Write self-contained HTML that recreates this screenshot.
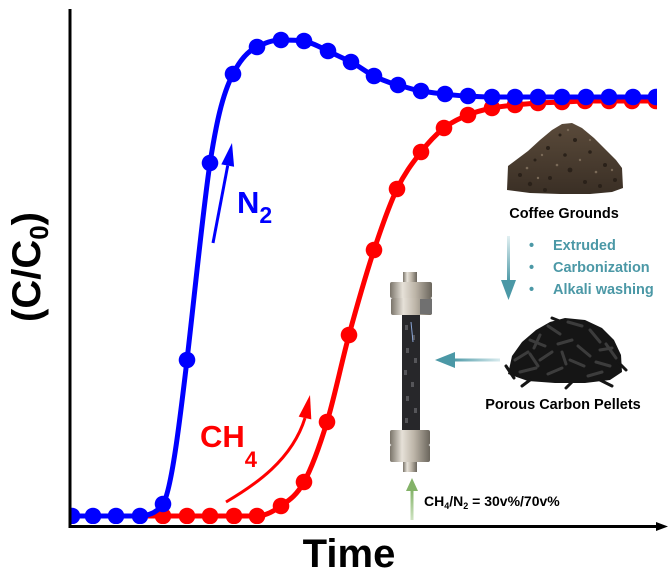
<!DOCTYPE html>
<html><head><meta charset="utf-8"><style>
html,body{margin:0;padding:0;background:#fff;}
svg{display:block;}
text{font-family:"Liberation Sans",Arial,sans-serif;font-weight:bold;}
</style></head><body>
<svg width="670" height="574" viewBox="0 0 670 574" xmlns="http://www.w3.org/2000/svg">
<defs>
<clipPath id="plot"><rect x="71" y="0" width="586" height="524"/></clipPath>
<linearGradient id="tealV" x1="0" y1="0" x2="0" y2="1"><stop offset="0" stop-color="#e2f0f2"/><stop offset="1" stop-color="#4b98a6"/></linearGradient>
<linearGradient id="tealH" x1="1" y1="0" x2="0" y2="0"><stop offset="0" stop-color="#d8ebee"/><stop offset="1" stop-color="#4b98a6"/></linearGradient>
<linearGradient id="greenV" x1="0" y1="1" x2="0" y2="0"><stop offset="0" stop-color="#cfe3c2"/><stop offset="1" stop-color="#7fb063"/></linearGradient>
<linearGradient id="metal" x1="0" y1="0" x2="1" y2="0"><stop offset="0" stop-color="#7a746a"/><stop offset="0.3" stop-color="#e6e1d8"/><stop offset="0.6" stop-color="#bdb5a8"/><stop offset="1" stop-color="#6a655c"/></linearGradient>
<linearGradient id="brown" x1="0" y1="0" x2="0" y2="1"><stop offset="0" stop-color="#5a4a3a"/><stop offset="1" stop-color="#3a2f25"/></linearGradient>
</defs>

<!-- data curves -->
<g clip-path="url(#plot)">
<!-- red -->
<path d="M 148 516 L 257 516 C 265 516, 273 511.8, 281 506 C 288.7 500.5, 296.3 496, 304 482 C 311.7 468, 319.3 447.1, 327 422 C 334.3 398, 341.7 361.8, 349 335 C 357.3 304.5, 365.7 275.3, 374 250 C 381.7 226.7, 389.3 205, 397 189 C 405 172.3, 413 162.4, 421 152 C 428.7 142, 436.3 134.1, 444 128 C 452 121.7, 460 118.4, 468 115 C 476 111.6, 484 109.7, 492 108 C 499.7 106.4, 507.3 105.8, 515 105 C 522.7 104.2, 530.3 103.5, 538 103 C 546 102.5, 554 102.3, 562 102 C 569.7 101.7, 577.3 101.2, 585 101 L 665 101" fill="none" stroke="#ff0000" stroke-width="5"/>
<g fill="#ff0000">
<circle cx="163" cy="516" r="8.3"/><circle cx="187" cy="516" r="8.3"/><circle cx="210" cy="516" r="8.3"/><circle cx="234" cy="516" r="8.3"/><circle cx="257" cy="516" r="8.3"/>
<circle cx="281" cy="506" r="8.3"/><circle cx="304" cy="482" r="8.3"/><circle cx="327" cy="422" r="8.3"/><circle cx="349" cy="335" r="8.3"/><circle cx="374" cy="250" r="8.3"/>
<circle cx="397" cy="189" r="8.3"/><circle cx="421" cy="152" r="8.3"/><circle cx="444" cy="128" r="8.3"/><circle cx="468" cy="115" r="8.3"/><circle cx="492" cy="108" r="8.3"/>
<circle cx="515" cy="105" r="8.3"/><circle cx="538" cy="103" r="8.3"/><circle cx="562" cy="102" r="8.3"/><circle cx="585" cy="101" r="8.3"/><circle cx="609" cy="101" r="8.3"/>
<circle cx="632" cy="101" r="8.3"/><circle cx="656" cy="101" r="8.3"/>
</g>
<!-- blue -->
<path d="M 60 516 L 138 516 C 152 516, 159 510, 163 504 C 172 490, 181 410, 187 360 C 194 300, 203 210, 210 163 C 216 125, 222 95, 233 74 C 240 60, 248 51, 257 47 C 265 43, 272 40, 281 40 C 289 40, 296 40, 304 41 C 313 43, 320 47, 328 51 C 336 55, 343 58, 351 62 C 359 66, 366 72, 374 76 C 382 80, 390 83, 398 85 C 406 87, 414 90, 421 91 C 429 92, 437 93.5, 445 94 C 453 95, 460 96, 468 96 C 476 96.5, 484 97, 492 97 L 665 97" fill="none" stroke="#0000ff" stroke-width="5"/>
<g fill="#0000ff">
<circle cx="72" cy="516" r="8.3"/><circle cx="93" cy="516" r="8.3"/><circle cx="116" cy="516" r="8.3"/><circle cx="140" cy="516" r="8.3"/><circle cx="163" cy="504" r="8.3"/>
<circle cx="187" cy="360" r="8.3"/><circle cx="210" cy="163" r="8.3"/><circle cx="233" cy="74" r="8.3"/><circle cx="257" cy="47" r="8.3"/><circle cx="281" cy="40" r="8.3"/>
<circle cx="304" cy="41" r="8.3"/><circle cx="328" cy="51" r="8.3"/><circle cx="351" cy="62" r="8.3"/><circle cx="374" cy="76" r="8.3"/><circle cx="398" cy="85" r="8.3"/>
<circle cx="421" cy="91" r="8.3"/><circle cx="445" cy="94" r="8.3"/><circle cx="468" cy="96" r="8.3"/><circle cx="492" cy="97" r="8.3"/><circle cx="515" cy="97" r="8.3"/>
<circle cx="538" cy="97" r="8.3"/><circle cx="562" cy="97" r="8.3"/><circle cx="586" cy="97" r="8.3"/><circle cx="609" cy="97" r="8.3"/><circle cx="633" cy="97" r="8.3"/>
<circle cx="656" cy="97" r="8.3"/>
</g>
</g>

<!-- axes -->
<line x1="70" y1="9" x2="70" y2="528" stroke="#000" stroke-width="3"/>
<line x1="68.5" y1="526.5" x2="660" y2="526.5" stroke="#000" stroke-width="3"/>
<polygon points="656,522 668,526.5 656,531" fill="#000"/>

<!-- axis labels -->
<text x="349" y="567" font-size="40" text-anchor="middle" fill="#000">Time</text>
<text transform="translate(40,267) rotate(-90)" font-size="40" text-anchor="middle" fill="#000">(C/C<tspan font-size="26" dy="8">0</tspan><tspan dy="-8">)</tspan></text>

<!-- N2 arrow + label -->
<line x1="213" y1="243" x2="227.7" y2="165.6" stroke="#0000ff" stroke-width="3"/>
<polygon points="232,143 234.1,166.8 221.3,164.4" fill="#0000ff"/>
<text x="237" y="213" font-size="31" fill="#0000ff">N<tspan font-size="23" dy="10">2</tspan></text>

<!-- CH4 arrow + label -->
<path d="M 226 502 C 255 485, 292 460, 305 418" fill="none" stroke="#ff0000" stroke-width="3"/>
<polygon points="310,395 311.3,419.4 298.7,416.6" fill="#ff0000"/>
<text x="200" y="447" font-size="31" fill="#ff0000">CH<tspan font-size="22" dy="20">4</tspan></text>

<!-- coffee grounds pile -->
<polygon points="507,190 508,166 516,160 528,151 540,140 552,130 562,124 572,123 582,128 594,138 606,150 616,160 622,168 623,188 612,192 590,194 560,194 530,193" fill="url(#brown)"/>
<g fill="#2a2119">
<circle cx="520" cy="175" r="2"/><circle cx="535" cy="160" r="1.5"/><circle cx="548" cy="148" r="2"/><circle cx="560" cy="135" r="1.5"/><circle cx="575" cy="140" r="2"/><circle cx="590" cy="152" r="1.8"/><circle cx="605" cy="165" r="2"/><circle cx="615" cy="180" r="2"/><circle cx="530" cy="184" r="2.2"/><circle cx="550" cy="178" r="2"/><circle cx="570" cy="170" r="2.4"/><circle cx="585" cy="182" r="2"/><circle cx="600" cy="186" r="2"/><circle cx="545" cy="190" r="2"/><circle cx="565" cy="155" r="1.8"/>
</g>
<g fill="#7a6a58">
<circle cx="527" cy="168" r="1.3"/><circle cx="542" cy="155" r="1.2"/><circle cx="557" cy="165" r="1.3"/><circle cx="580" cy="160" r="1.2"/><circle cx="596" cy="172" r="1.3"/><circle cx="612" cy="170" r="1.2"/><circle cx="568" cy="130" r="1.2"/><circle cx="538" cy="178" r="1.2"/><circle cx="590" cy="140" r="1.1"/>
</g>
<text x="564" y="218" font-size="14.5" text-anchor="middle" fill="#000">Coffee Grounds</text>

<!-- teal down arrow + steps -->
<rect x="507" y="236" width="3" height="46" fill="url(#tealV)"/>
<polygon points="501,280 516,280 508.5,300" fill="#4b98a6"/>
<g fill="#4b98a6" font-size="14.5">
<text x="529" y="250">•</text><text x="553" y="250">Extruded</text>
<text x="529" y="272">•</text><text x="553" y="272">Carbonization</text>
<text x="529" y="294">•</text><text x="553" y="294">Alkali washing</text>
</g>

<!-- carbon pellets -->
<polygon points="508,374 512,356 522,342 536,330 550,322 565,318 585,320 602,328 614,340 621,355 622,372 610,380 585,383 555,383 528,381" fill="#151515"/>
<g stroke="#3c3c3c" stroke-width="3" stroke-linecap="round">
<line x1="515" y1="360" x2="528" y2="352"/><line x1="530" y1="340" x2="545" y2="346"/><line x1="548" y1="326" x2="560" y2="334"/><line x1="568" y1="322" x2="582" y2="326"/><line x1="590" y1="330" x2="600" y2="342"/>
<line x1="606" y1="344" x2="616" y2="358"/><line x1="520" y1="372" x2="536" y2="368"/><line x1="540" y1="360" x2="552" y2="352"/><line x1="558" y1="344" x2="572" y2="340"/><line x1="578" y1="346" x2="590" y2="356"/>
<line x1="596" y1="362" x2="610" y2="366"/><line x1="548" y1="374" x2="562" y2="368"/><line x1="570" y1="360" x2="584" y2="366"/><line x1="588" y1="376" x2="602" y2="372"/><line x1="530" y1="354" x2="538" y2="366"/>
<line x1="562" y1="352" x2="566" y2="364"/><line x1="600" y1="350" x2="612" y2="348"/><line x1="540" y1="335" x2="534" y2="348"/>
</g>
<g stroke="#151515" stroke-width="3" stroke-linecap="round">
<line x1="506" y1="366" x2="514" y2="378"/><line x1="618" y1="362" x2="626" y2="370"/><line x1="552" y1="318" x2="562" y2="322"/><line x1="530" y1="380" x2="522" y2="386"/><line x1="600" y1="380" x2="612" y2="386"/><line x1="572" y1="382" x2="566" y2="388"/>
</g>
<text x="563" y="409" font-size="14.5" text-anchor="middle" fill="#000">Porous Carbon Pellets</text>

<!-- teal left arrow -->
<rect x="452" y="358.5" width="48" height="3" fill="url(#tealH)"/>
<polygon points="435,360 455,352 455,368" fill="#4b98a6"/>

<!-- column -->
<rect x="403" y="272" width="14" height="11" fill="url(#metal)"/>
<rect x="390" y="282" width="42" height="16" rx="2" fill="url(#metal)"/>
<rect x="391" y="298" width="41" height="17" rx="2" fill="url(#metal)"/>
<rect x="420" y="299" width="12" height="15" fill="#707070"/>
<rect x="402" y="315" width="18" height="115" fill="#27272a"/>
<g fill="#555559">
<rect x="405" y="325" width="3" height="5"/><rect x="412" y="335" width="3" height="5"/><rect x="406" y="348" width="3" height="5"/><rect x="414" y="358" width="3" height="5"/><rect x="404" y="370" width="3" height="5"/><rect x="411" y="382" width="3" height="5"/><rect x="406" y="396" width="3" height="5"/><rect x="414" y="408" width="3" height="5"/><rect x="405" y="418" width="3" height="5"/>
</g>
<line x1="411" y1="322" x2="413" y2="342" stroke="#8aa6d8" stroke-width="1"/>
<rect x="390" y="430" width="40" height="15" rx="2" fill="url(#metal)"/>
<rect x="390" y="445" width="40" height="17" rx="2" fill="url(#metal)"/>
<rect x="403" y="462" width="14" height="10" fill="url(#metal)"/>

<!-- green arrow + feed label -->
<rect x="410.5" y="488" width="3" height="32" fill="url(#greenV)"/>
<polygon points="412,478 406,491 418,491" fill="#83b268"/>
<text x="424" y="506" font-size="14" fill="#000">CH<tspan font-size="9" dy="3">4</tspan><tspan dy="-3">/N</tspan><tspan font-size="9" dy="3">2</tspan><tspan dy="-3"> = 30v%/70v%</tspan></text>
</svg>
</body></html>
